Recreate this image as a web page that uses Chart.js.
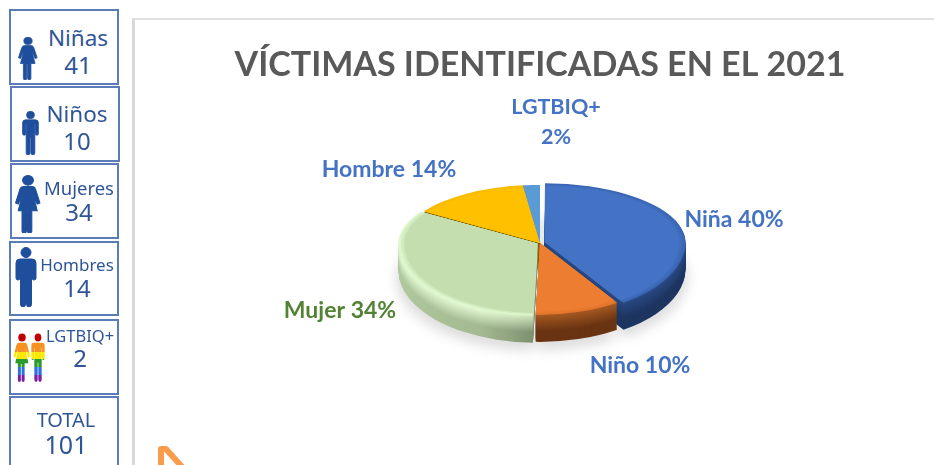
<!DOCTYPE html>
<html lang="es"><head><meta charset="utf-8">
<script src="https://cdn.jsdelivr.net/npm/chart.js@4"></script>
<style>
html,body{margin:0;padding:0;background:#fff;overflow:hidden;width:934px;height:465px;font-family:"Noto Sans",sans-serif}
#frame{position:absolute;left:132px;top:18px;width:810px;height:460px;border-left:3px solid #d9d9d9;border-top:2px solid #e0e0e0}
#c{position:absolute;left:0;top:0}
.box{position:absolute;border:2px solid #5a7cb8;box-sizing:border-box;background:#fff}
.t{position:absolute;transform:translate(-50%,-50%);color:#2f5597;white-space:nowrap;line-height:1}
svg.ico{position:absolute;left:0;top:0;overflow:visible}
</style></head><body>
<div id="frame"></div>
<canvas id="c" width="934" height="465"></canvas>
<div id="side"></div>
<svg class="ico" width="934" height="465" style="pointer-events:none">
<defs>
<linearGradient id="rb" x1="0" y1="0" x2="0" y2="1">
<stop offset="0" stop-color="#f79222"/><stop offset=".24" stop-color="#f79222"/>
<stop offset=".24" stop-color="#ffe800"/><stop offset=".42" stop-color="#ffe800"/><stop offset=".42" stop-color="#2a9a2a"/><stop offset=".62" stop-color="#2a9a2a"/>
<stop offset=".62" stop-color="#2f6fe0"/><stop offset=".82" stop-color="#2f6fe0"/><stop offset=".82" stop-color="#7a1fa0"/><stop offset="1" stop-color="#7a1fa0"/>
</linearGradient>
<symbol id="fh" viewBox="0 0 24 60" preserveAspectRatio="none"><circle cx="12" cy="5.5" r="5"/></symbol>
<symbol id="fb" viewBox="0 0 24 60" preserveAspectRatio="none"><path d="M8 12h8q2 0 3 3l4 14-2.5 1-4-11 4 18h-5v21q0 2-2 2t-2-2V38h-1v20q0 2-2 2t-2-2V37H3l4-18-4 11-2.500-1 4-14q1-3 3.500-3z"/></symbol>
<symbol id="mb" viewBox="0 0 24 60" preserveAspectRatio="none"><path d="M6 12h12q4 0 4 4v15q0 2-2 2t-2-2V18h-.5v39q0 3-2.500 3t-2.500-3V36h-1v21q0 3-2.500 3t-2.500-3V18H6v13q0 2-2 2t-2-2V16q0-4 4-4z"/></symbol>
</defs>
<g fill="#1f4e9c" stroke="#1f4e9c" stroke-width="1">
<use href="#fh" x="18" y="37" width="20" height="43"/><use href="#fb" x="18" y="37" width="20" height="43"/>
<use href="#fh" x="21" y="111" width="19" height="44"/><use href="#mb" x="21" y="111" width="19" height="44"/>
<use href="#fh" x="15" y="175" width="26" height="58"/><use href="#fb" x="15" y="175" width="26" height="58"/>
<use href="#fh" x="14" y="247" width="24" height="60"/><use href="#mb" x="14" y="247" width="24" height="60"/>
</g>
<g fill="#c00000">
<use href="#fh" x="13" y="333" width="18" height="49"/>
<use href="#fh" x="30" y="333" width="16" height="49"/>
</g>
<g fill="url(#rb)">
<use href="#fb" x="13" y="333" width="18" height="49"/>
<use href="#mb" x="30" y="333" width="16" height="49"/>
</g>
<polyline points="161,468 161,449 166,449 183,468" fill="none" stroke="#f99d4d" stroke-width="6" stroke-linejoin="round"/>
</svg>
<script>
// --- data ---
const categories = ['Niña','Niño','Mujer','Hombre','LGTBIQ+'];
const counts = [41,10,34,14,2];
const percents = [40,10,34,14,2];
const panelNames = ['Niñas','Niños','Mujeres','Hombres','LGTBIQ+','TOTAL'];
const panelValues = [41,10,34,14,2,101];
const titleText = 'VÍCTIMAS IDENTIFICADAS EN EL 2021';

// --- side panels ---
const boxes=[[9,9,110,76],[10,86,110,76],[10,163,109,76],[9,241,110,75],[9,319,110,76],[9,396,110,90]];
const nameSpots=[[78,38,22.5],[77,114,22.5],[79,188,18.5],[77,264,17],[80,336,16.5],[66,420,20]];
const valSpots=[[78,65,24],[77,141,24],[79,212,24],[77,288,24],[80,358,24],[66,444,25]];
const side=document.getElementById('side');
panelNames.forEach((n,i)=>{
  const b=document.createElement('div');b.className='box';
  b.style.cssText=`left:${boxes[i][0]}px;top:${boxes[i][1]}px;width:${boxes[i][2]}px;height:${boxes[i][3]}px`;
  side.appendChild(b);
  [[n,nameSpots[i]],[panelValues[i],valSpots[i]]].forEach(([txt,s])=>{
    const t=document.createElement('div');t.className='t';t.textContent=txt;
    t.style.cssText=`left:${s[0]}px;top:${s[1]}px;font-size:${s[2]}px`;
    side.appendChild(t);
  });
});

// --- styling ---
const faceColors=['#4472c4','#ed7d31','#c5deb0','#ffc000','#5b9bd5'];
const rimColors =['#3a66b3','#e0752c','#dcf6cb','#f8bb00','#5b9bd5'];
const wallTop   =['#2a4a85','#a65a22','#d9f2c6','#7f6000','#2e6a9e'];
const wallBottom=['#1d3560','#6a3412','#7e916f','#7f6000','#2e6a9e'];
const labelColors=['#4472c4','#4472c4','#548235','#4472c4','#4472c4'];
const labelSpots=[[734,220],[640,366],[340,311],[389,170],[556,107]];
const DEPTH=27, RY_BACK=58, RY_FRONT=72;

function lerp(a,b,t){const p=h=>[1,3,5].map(k=>parseInt(h.substr(k,2),16));const A=p(a),B=p(b);
  return 'rgb('+A.map((v,i)=>Math.round(v+(B[i]-v)*t)).join(',')+')';}

const pie3d={id:'pie3d',beforeDatasetsDraw(chart){
  const ctx=chart.ctx, arcs=chart.getDatasetMeta(0).data;
  const cx=arcs[0].x, cy=arcs[0].y, R=arcs[0].outerRadius;
  const W=chart.width,H=chart.height;
  const paint=(dy,fill,s=1)=>{
    [[0,RY_BACK],[1,RY_FRONT]].forEach(([lower,ry])=>{
      ctx.save();ctx.beginPath();
      if(!lower)ctx.rect(0,0,W,cy+dy);else ctx.rect(0,cy+dy,W,H);
      ctx.clip();
      ctx.translate(cx,cy+dy);ctx.scale(s,s*ry/R);ctx.translate(-cx,-cy);
      arcs.forEach((a,i)=>{const o=a.options;a.options=Object.assign({},o,{backgroundColor:fill(i),borderWidth:0});a.draw(ctx);a.options=o;});
      ctx.restore();
    });
  };
  // soft shadow
  ctx.save();ctx.filter='blur(6px)';paint(DEPTH+7,()=>'rgba(0,0,0,0.13)',1.02);ctx.restore();
  // side walls
  for(let d=DEPTH;d>=1;d--){
    const t=Math.min(1,(d/DEPTH)*1.6);
    const g=ctx.createLinearGradient(cx-R,0,cx,0);
    g.addColorStop(0,lerp('#e4fbd4','#b0c89e',t));
    g.addColorStop(.6,lerp('#e6fbd6','#a3b991',t));
    g.addColorStop(1,lerp('#cfe6bb','#7b8e6d',t));
    paint(d,i=>i===2?g:lerp(wallTop[i],wallBottom[i],t));
  }
  // top face with a soft bevel
  paint(0,i=>rimColors[i]);
  paint(0,i=>lerp(rimColors[i],faceColors[i],.5),.98);
  paint(0,i=>faceColors[i],.96);
  // labels
  ctx.save();ctx.textAlign='center';ctx.textBaseline='middle';
  categories.forEach((c,i)=>{
    const [x,y]=labelSpots[i];ctx.fillStyle=labelColors[i];
    if(i===4){ctx.font='bold 21.5px Lato';ctx.fillText(c,x,y);ctx.fillText(percents[i]+'%',x,y+30);}
    else {ctx.font='bold 23px Lato';ctx.fillText(c+' '+percents[i]+'%',x,y);}
  });
  ctx.restore();
  return false;
}};

new Chart(document.getElementById('c'),{
  type:'pie',
  plugins:[pie3d],
  data:{labels:categories,datasets:[{data:counts,backgroundColor:faceColors,borderWidth:0,offset:[20,0,12,0,0]}]},
  options:{responsive:false,animation:false,radius:138.5,
    layout:{padding:{left:146,right:0,top:18,bottom:65}},
    plugins:{legend:{display:false},tooltip:{enabled:false},
      title:{display:true,text:titleText,color:'#595959',fullSize:false,
        font:{family:'Lato',size:34,weight:'bold'},padding:{top:27,bottom:0}}}}
});
</script>
</body></html>
